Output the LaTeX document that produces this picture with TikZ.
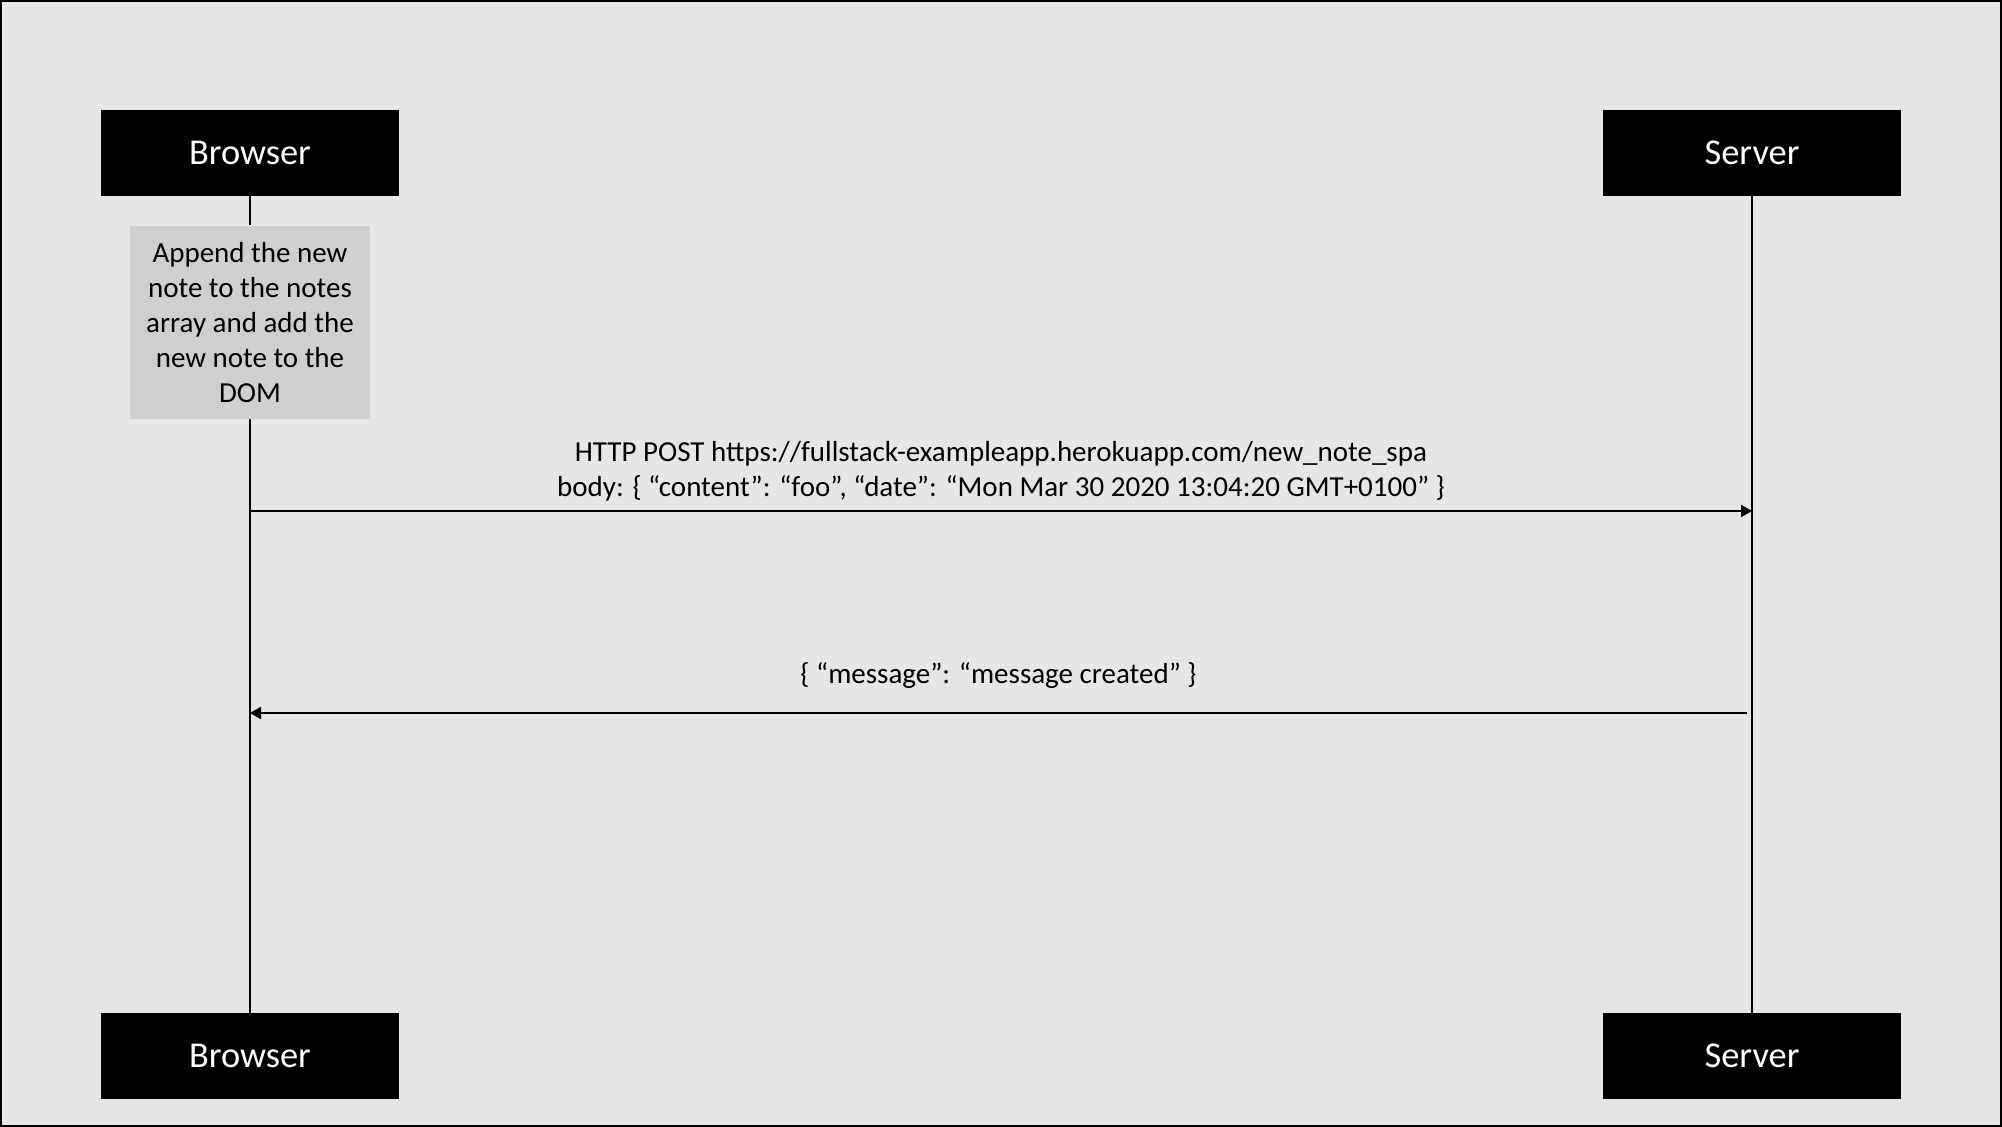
\documentclass[tikz,border=0pt]{standalone}
\usepackage{fontspec}
\setmainfont{Carlito}
\usetikzlibrary{positioning,arrows.meta}
\definecolor{PanelGray}{RGB}{230,230,230}
\definecolor{NoteGray}{RGB}{208,207,208}
\tikzset{
  actor/.style={fill=black,text=white,minimum width=149pt,minimum height=43pt,
    inner sep=0pt,font=\fontsize{18.2}{22}\selectfont},
  notebox/.style={fill=NoteGray,minimum width=120pt,minimum height=96.5pt,
    inner sep=0pt,align=center,font=\fontsize{14.5}{17.5}\selectfont},
  lifeline/.style={draw=black,line width=0.9pt},
  msg/.style={-{Triangle[length=5.5pt,width=6pt]},line width=1pt},
  msglabel/.style={inner sep=0pt,align=center,font=\fontsize{14.5}{17.5}\selectfont}
}
\begin{document}
\begin{tikzpicture}[x=0.5pt,y=-0.5pt]
  \useasboundingbox (0,0) rectangle (2002,1127);
  \fill[PanelGray] (0,0) rectangle (2002,1127);
  \draw[line width=1pt] (1,1) rectangle (2001,1126);

  % actors, top and bottom
  \node[actor] (browser) at (250,153) {Browser};
  \node[actor] (server) at (1752,153) {Server};
  \node[actor] (browserEnd) at (250,1056) {Browser};
  \node[actor] (serverEnd) at (1752,1056) {Server};
  \node[notebox,below=14.5pt of browser] (append) {Append the new\\note to the notes\\array and add the\\new note to the\\DOM};

  % lifelines
  \draw[lifeline] (browser) -- (append);
  \draw[lifeline] (append) -- (browserEnd);
  \draw[lifeline] (server) -- (serverEnd);

  \coordinate (postFrom) at (250,511);
  \coordinate (postTo) at (1752,511);
  \coordinate (replyFrom) at (1747,713);
  \coordinate (replyTo) at (250,713);

  % messages
  \draw[msg] (postFrom) -- node[msglabel,above=4.2pt] {HTTP POST https://fullstack-exampleapp.herokuapp.com/new\_note\_spa\\body: \{ “content”: “foo”, “date”: “Mon Mar 30 2020 13:04:20 GMT+0100” \}} (postTo);
  \draw[msg] (replyFrom) -- node[msglabel,above=11.7pt] {\{ “message”: “message created” \}} (replyTo);
\end{tikzpicture}
\end{document}
